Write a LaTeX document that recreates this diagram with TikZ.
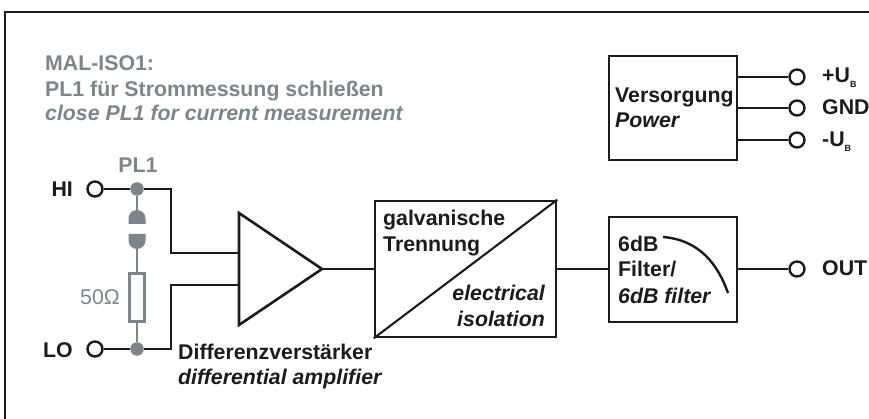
\documentclass[tikz,border=0pt]{standalone}
\usepackage{fontspec}
\setmainfont{Liberation Sans}
\definecolor{gr}{HTML}{7C868A}
\definecolor{ink}{HTML}{1E1A19}
\tikzset{x=1pt,y=-1pt,
 wire/.style={draw=ink,line width=2.1pt},
 gwire/.style={draw=gr,line width=2.1pt},
 blockbox/.style={draw=ink,line width=2.6pt,fill=white},
 term/.style={circle,draw=ink,line width=2.4pt,fill=white,minimum size=15pt,inner sep=0pt},
 dot/.style={circle,fill=gr,minimum size=13.5pt,inner sep=0pt},
 lab/.style={font=\fontsize{21.3}{24}\selectfont\bfseries,text=ink,inner sep=0pt,anchor=base west},
 glab/.style={font=\fontsize{21.3}{24}\selectfont\bfseries,text=gr,inner sep=0pt,anchor=base west},
}
\begin{document}
\begin{tikzpicture}
\useasboundingbox (0,0) rectangle (869,419);
\draw[draw=ink,line width=1.5pt] (5,419) -- (5,12) -- (869,12);
% text top
\node[glab] (t1) at (45,71) {MAL-ISO1:};
\node[glab] (t2) at (45,97) {PL1 für Strommessung schließen};
\node[glab] (t3) at (45,121) {\itshape close PL1 for current measurement};
% terminals
\node[term] (hi) at (95,189) {};
\node[term] (lo) at (95,349) {};
\node[dot] (da) at (137,189) {};
\node[dot] (db) at (137,349) {};
\node[lab,anchor=base east] (hil) at (73,197) {HI};
\node[lab,anchor=base east] (lol) at (73,357) {LO};
\node[glab,anchor=base] (pl) at (138,173) {PL1};
% resistor & jumper
\node[draw=gr,line width=2.1pt,fill=white,minimum width=15pt,minimum height=48pt,inner sep=0pt] (r) at (137,297.5) {};
\node[font=\fontsize{21.3}{24}\selectfont,text=gr,inner sep=0pt,anchor=base east] (ohm) at (120,305) {50Ω};
\coordinate (ja) at (137,212);
\coordinate (jb) at (137,247);
\draw[gwire] (da) -- (ja);
\draw[gwire] (jb) -- (r.north);
\draw[gwire] (r.south) -- (db);
\fill[gr] (128.5,224) -- (128.5,218.5) arc[start angle=180,end angle=360,radius=8.5] -- (145.5,224) -- cycle;
\fill[gr] (128.5,234) -- (128.5,240.5) arc[start angle=180,end angle=0,radius=8.5] -- (145.5,234) -- cycle;
\draw[wire] (hi) -- (da);
\draw[wire] (lo) -- (db);
% amp
\coordinate (ain) at (239,253);
\coordinate (bin) at (239,285);
\coordinate (aout) at (322,269);
\draw[wire] (da) -| (171,253) -- (ain);
\draw[wire] (db) -| (171,285) -- (bin);
\draw[blockbox,line join=miter] (239,213) -- (322,269) -- (239,325) -- cycle;
\node[lab] (d1) at (178,359) {Differenzverstärker};
\node[lab] (d2) at (178,384) {\itshape differential amplifier};
% isolation
\node[blockbox,minimum width=181pt,minimum height=136pt,inner sep=0pt] (iso) at (465.5,269) {};
\draw[wire] (iso.south west) -- (iso.north east);
\draw[wire] (aout) -- (iso.west);
\node[lab] at (383,226) {galvanische};
\node[lab] at (383,252) {Trennung};
\node[lab,anchor=base east] at (545,301) {\itshape electrical};
\node[lab,anchor=base east] at (545,326) {\itshape isolation};
% filter
\node[blockbox,minimum width=128pt,minimum height=105pt,inner sep=0pt] (fil) at (673,269.5) {};
\draw[wire] (iso.east) -- (fil.west |- iso.east);
\node[lab] at (618,252) {6dB};
\node[lab] at (618,277) {Filter/};
\node[lab] at (618,303) {\itshape 6dB filter};
\draw[draw=ink,line width=2.4pt] (663,237) .. controls (700,240) and (718,265) .. (728,293);
\node[term] (out) at (797,269) {};
\draw[wire] (fil.east |- out) -- (out);
\node[lab] at (822,276) {OUT};
% power
\node[blockbox,minimum width=128pt,minimum height=104pt,inner sep=0pt] (pw) at (673,108) {};
\node[lab] at (615,103) {Versorgung};
\node[lab] at (615,128) {\itshape Power};
\node[term] (p1) at (797,77) {};
\node[term] (p2) at (797,108) {};
\node[term] (p3) at (797,140) {};
\draw[wire] (pw.east |- p1) -- (p1);
\draw[wire] (pw.east |- p2) -- (p2);
\draw[wire] (pw.east |- p3) -- (p3);
\node[lab] at (822,83) {+U\raisebox{-5pt}{\fontsize{9}{9}\selectfont B}};
\node[lab] at (822,115) {GND};
\node[lab] at (822,147) {-U\raisebox{-5pt}{\fontsize{9}{9}\selectfont B}};
\end{tikzpicture}
\end{document}
